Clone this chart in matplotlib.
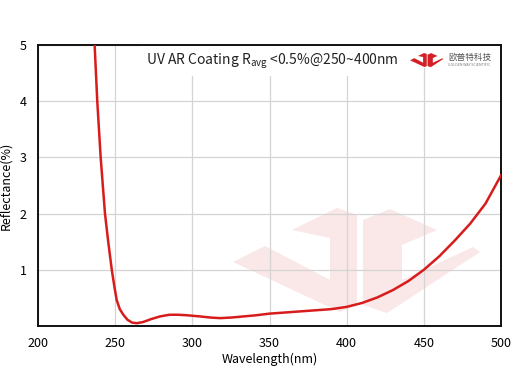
import matplotlib
matplotlib.use('Agg')
import matplotlib.pyplot as plt
from matplotlib.patches import Polygon, Rectangle

plt.rcParams['font.family'] = ['Noto Sans CJK SC', 'DejaVu Sans']
plt.rcParams['mathtext.fontset'] = 'custom'
plt.rcParams['mathtext.rm'] = 'Noto Sans CJK SC'

# Reflectance curve
wavelength = [235.0, 236.7, 238.4, 240.6, 243.4, 245.5, 247.8, 249.5, 251.0, 253.0,
              255.3, 258.0, 261.0, 264.0, 268.0, 273.0, 279.0, 285.0, 291.0, 297.0,
              305.0, 312.0, 318.0, 325.0, 333.0, 341.0, 350.0, 360.0, 370.0, 380.0,
              390.0, 400.0, 410.0, 420.0, 430.0, 440.0, 450.0, 460.0, 470.0, 480.0,
              490.0, 500.0]
reflectance = [5.4, 5.0, 4.0, 3.0, 2.0, 1.5, 1.0, 0.7, 0.46, 0.3,
               0.2, 0.11, 0.06, 0.05, 0.07, 0.12, 0.17, 0.2, 0.2, 0.19,
               0.17, 0.15, 0.14, 0.15, 0.17, 0.19, 0.22, 0.24, 0.26, 0.28,
               0.3, 0.34, 0.41, 0.51, 0.64, 0.8, 1.0, 1.24, 1.52, 1.82,
               2.18, 2.68]

x_ticks = [200, 250, 300, 350, 400, 450, 500]
y_ticks = [1, 2, 3, 4, 5]

# watermark / logo outline (pixel units of a 512x384 image)
logo_left = [(233, 262), (265, 246), (330, 280), (330, 238), (292, 230), (337, 208),
             (357, 215), (357, 305), (340, 312)]
logo_right = [(363, 220), (390, 209), (437, 230), (402, 245), (402, 280), (473, 247),
              (480, 252), (387, 313), (363, 305)]

fig = plt.figure(figsize=(5.12, 3.84), dpi=100)
ax = fig.add_axes([38 / 512, 1 - 326 / 384, 463 / 512, 281 / 384])


def to_fig(pts, dx=0, dy=0, s=1.0, ox=233, oy=208):
    return [((ox + (x - ox) * s + dx) / 512, 1 - (oy + (y - oy) * s + dy) / 384) for x, y in pts]


# faint watermark, behind the axes
for pts in (logo_left, logo_right):
    fig.patches.append(Polygon(to_fig(pts), closed=True, transform=fig.transFigure,
                               facecolor='#fae7e7', edgecolor='none', zorder=-1))
ax.set_facecolor('none')
fig.patch.set_facecolor('white')

ax.plot(wavelength, reflectance, color='#d81c1c', linewidth=1.8, zorder=3)

ax.set_xlim(200, 500)
ax.set_ylim(0, 5)
ax.set_xticks(x_ticks)
ax.set_yticks(y_ticks)
ax.tick_params(length=0, labelsize=9, pad=8)
ax.grid(True, color='#d4d4d4', linewidth=0.9)
ax.set_axisbelow(True)
for sp in ax.spines.values():
    sp.set_linewidth(1.4)
    sp.set_color('#111111')

ax.set_xlabel('Wavelength(nm)', fontsize=9, labelpad=2)
fig.text(6 / 512, 0.5 + 6 / 384, 'Reflectance(%)', rotation=90, fontsize=9,
         ha='center', va='center')

ax.text(0.505, 0.943, 'UV AR Coating R$_{\\rm avg}$ <0.5%@250~400nm', transform=ax.transAxes,
        ha='center', va='center', fontsize=10, color='#222222',
        bbox=dict(facecolor='white', edgecolor='none', pad=4), zorder=4)

# company logo in top right corner
fig.patches.append(Rectangle((402 / 512, 1 - 68 / 384), 98 / 512, 22 / 384,
                             transform=fig.transFigure, facecolor='white', edgecolor='none', zorder=3))
for pts in (logo_left, logo_right):
    fig.patches.append(Polygon(to_fig(pts, dx=410 - 233, dy=53 - 208, s=0.135), closed=True,
                               transform=fig.transFigure, facecolor='#d42027',
                               edgecolor='none', zorder=4))
fig.text(448 / 512, 1 - 57 / 384, '欧普特科技', fontsize=6.2, color='#555555',
         ha='left', va='center', zorder=5)
fig.text(448 / 512, 1 - 65.5 / 384, 'GOLDEN WAY SCIENTIFIC', fontsize=2.6, color='#777777',
         ha='left', va='center', zorder=5)

fig.savefig('out.png', dpi=100)
